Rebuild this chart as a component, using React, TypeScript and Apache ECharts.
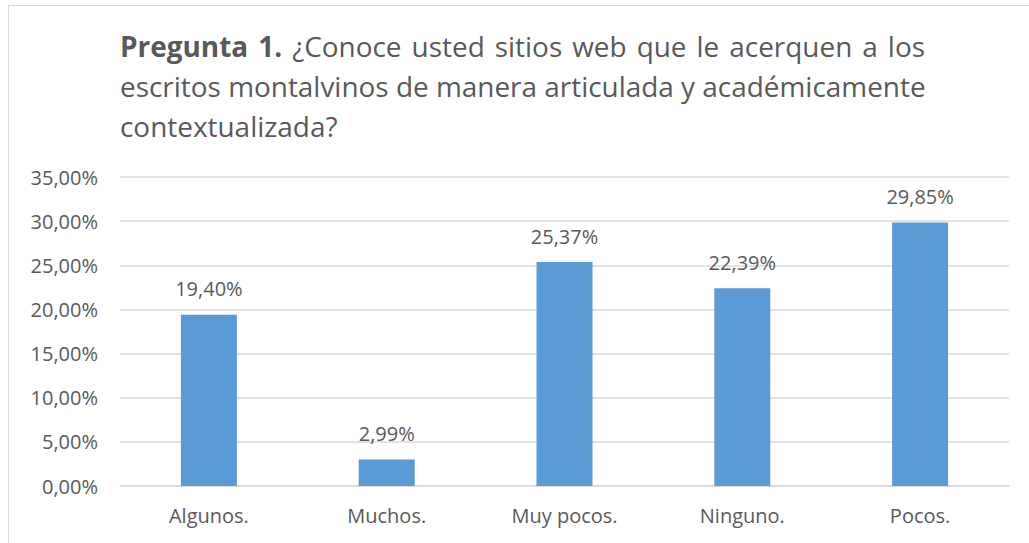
import React, { useEffect, useRef } from "react";
import * as echarts from "echarts";

const categories = ["Algunos.", "Muchos.", "Muy pocos.", "Ninguno.", "Pocos."];
const values = [19.4, 2.99, 25.37, 22.39, 29.85];
const yTicks = { min: 0, max: 35, interval: 5 };

const titleBold = ["Pregunta", "1."];
const titleLine1 = "¿Conoce usted sitios web que le acerquen a los";
const titleLine2 = "escritos montalvinos de manera articulada y académicamente";
const titleLine3 = "contextualizada?";

const FONT = '"Open Sans", "Noto Sans", sans-serif';
const TEXT = "#595959";

function fmt(v: number) {
  return v.toFixed(2).replace(".", ",") + "%";
}

export default function App() {
  const ref = useRef<HTMLDivElement>(null);
  useEffect(() => {
    if (!ref.current) return;
    const chart = echarts.init(ref.current, undefined, { renderer: "svg" });

    const canvas = document.createElement("canvas");
    const ctx = canvas.getContext("2d")!;
    const measure = (s: string, size: number, bold: boolean) => {
      ctx.font = `${bold ? "bold " : ""}${size}px ${FONT}`;
      return ctx.measureText(s).width;
    };
    const left = 120;
    const line2Width = 806;
    const line1Right = 925;
    const fs = (100 * line2Width) / measure(titleLine2, 100, false);

    const words: { t: string; b: boolean }[] = [
      ...titleBold.map((t) => ({ t, b: true })),
      ...titleLine1.split(" ").map((t) => ({ t, b: false })),
    ];
    const widths = words.map((w) => measure(w.t, fs, w.b));
    const total = widths.reduce((a, b) => a + b, 0);
    const gap = (line1Right - left - total) / (words.length - 1);
    const graphics: any[] = [];
    let x = left;
    words.forEach((w, i) => {
      graphics.push({
        type: "text",
        x,
        y: 46,
        style: {
          text: w.t,
          font: `${w.b ? "bold " : ""}${fs}px ${FONT}`,
          fill: TEXT,
          verticalAlign: "middle",
        },
      });
      x += widths[i] + gap;
    });
    [titleLine2, titleLine3].forEach((t, i) => {
      graphics.push({
        type: "text",
        x: left,
        y: 86 + i * 40,
        style: {
          text: t,
          font: `${fs}px ${FONT}`,
          fill: TEXT,
          verticalAlign: "middle",
        },
      });
    });
    graphics.push({
      type: "rect",
      shape: { x: 8.5, y: 5.5, width: 1100, height: 700 },
      style: { fill: "none", stroke: "#d9d9d9", lineWidth: 1 },
      silent: true,
    });

    chart.setOption({
      animation: false,
      backgroundColor: "#fff",
      graphic: graphics,
      grid: { left: 120, right: 20, top: 177, bottom: 57, containLabel: false },
      xAxis: {
        type: "category",
        data: categories,
        axisLine: { lineStyle: { color: "#d9d9d9", width: 1.5 } },
        axisTick: { show: false },
        axisLabel: { color: TEXT, fontFamily: FONT, fontSize: 20, margin: 19 },
      },
      yAxis: {
        type: "value",
        min: yTicks.min,
        max: yTicks.max,
        interval: yTicks.interval,
        axisLine: { show: false },
        axisTick: { show: false },
        splitLine: { lineStyle: { color: "#d9d9d9", width: 1.5 } },
        axisLabel: {
          color: TEXT,
          fontFamily: FONT,
          fontSize: 20,
          margin: 22,
          formatter: (v: number) => fmt(v),
        },
      },
      series: [
        {
          type: "bar",
          data: values,
          barWidth: 56,
          itemStyle: { color: "#5B9BD5" },
          label: {
            show: true,
            position: "top",
            distance: 16,
            color: TEXT,
            fontFamily: FONT,
            fontSize: 20,
            formatter: (p: any) => fmt(p.value),
          },
        },
      ],
    });
    return () => chart.dispose();
  }, []);
  return (
    <div
      ref={ref}
      style={{ position: "absolute", left: 0, top: 0, width: 1029, height: 543 }}
    />
  );
}
